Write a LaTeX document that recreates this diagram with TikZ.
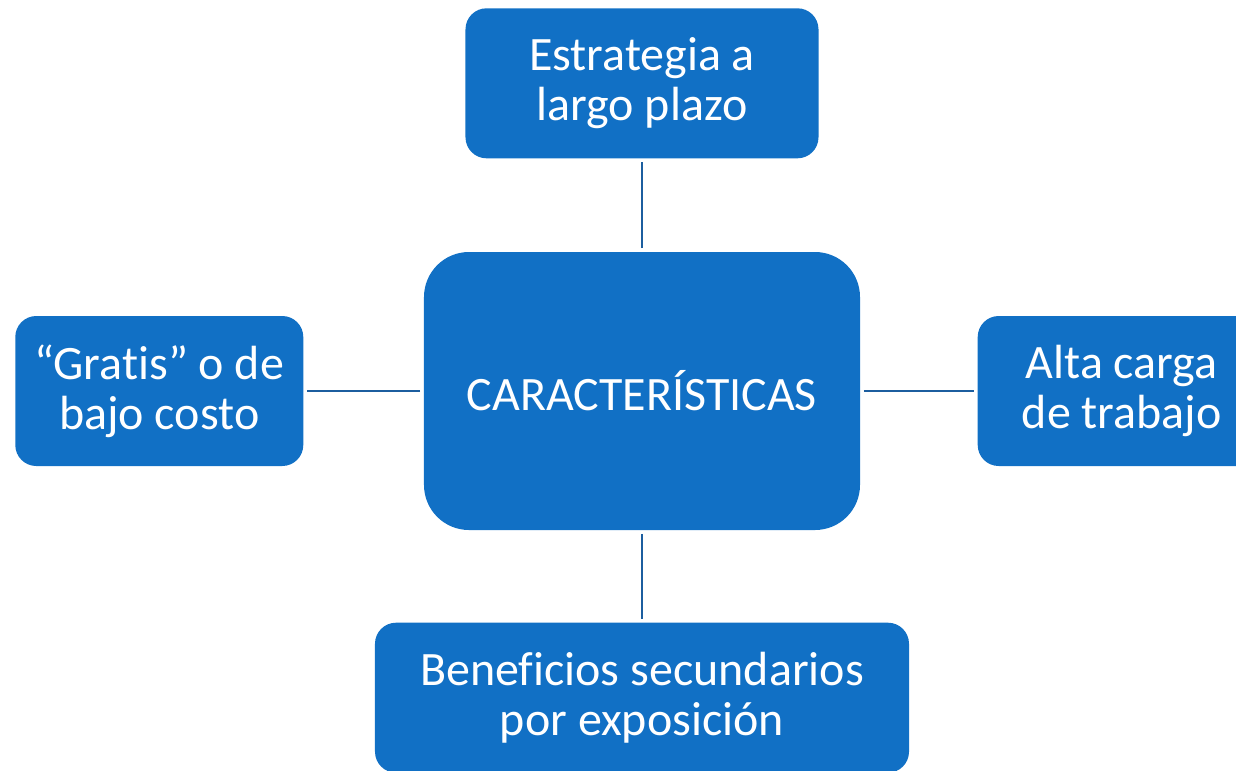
\documentclass[tikz,border=0pt]{standalone}
\usepackage{fontspec}
\setmainfont{Carlito}[Ligatures={NoCommon}]
\usetikzlibrary{positioning}
\definecolor{boxblue}{HTML}{1170C5}
\definecolor{lineblue}{HTML}{1C5E9F}
\tikzset{
    block/.style={
        fill=boxblue,
        text=white,
        rectangle,
        rounded corners=0.42cm,
        align=center,
        minimum height=3cm,
        inner sep=0pt,
        font=\fontsize{27.3}{28.5}\selectfont
    },
    mainblock/.style={
        block,
        rounded corners=0.9cm,
        minimum width=8.72cm,
        minimum height=5.56cm
    },
    link/.style={
        draw=lineblue,
        line width=1.6pt,
        shorten <=2pt,
        shorten >=2pt
    },
}
\begin{document}
\begin{tikzpicture}[node distance = 1.86cm and 2.4cm]
    \useasboundingbox (-12.84,7.82) rectangle (11.88,-7.58);
    \clip (-12.84,7.82) rectangle (11.88,-7.58);
    % blocks
    \node[mainblock] (car) {CARACTERÍSTICAS};
    \node[block, minimum width=7.06cm, above= of car] (plazo) {Estrategia a\\largo plazo};
    \node[block, minimum width=5.76cm, left= of car] (gratis) {“Gratis” o de\\bajo costo};
    \node[block, minimum width=5.76cm, right=2.34cm of car] (carga) {Alta carga\\de trabajo};
    \node[block, minimum width=10.68cm, below=1.84cm of car] (benef) {Beneficios secundarios\\por exposición};

    % lines
    \draw[link] (car) -- (plazo);
    \draw[link] (car) -- (gratis);
    \draw[link] (car) -- (carga);
    \draw[link] (car) -- (benef);
\end{tikzpicture}
\end{document}
